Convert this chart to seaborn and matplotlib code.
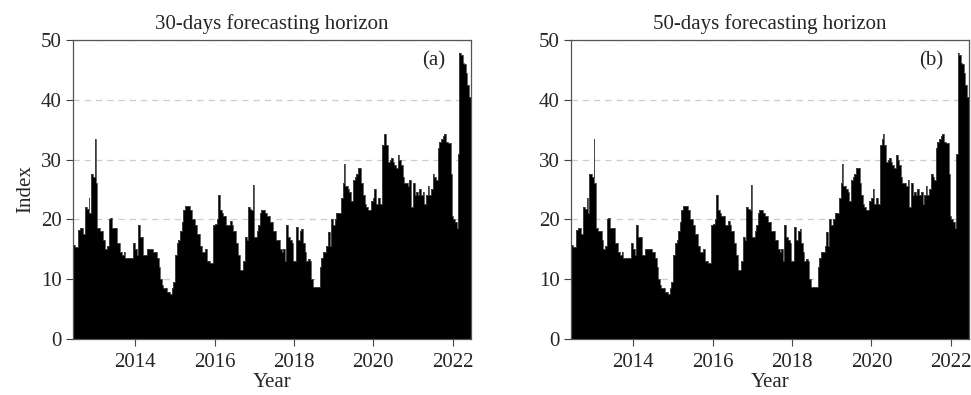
import matplotlib
matplotlib.use("Agg")
import matplotlib.pyplot as plt
import seaborn as sns
import pandas as pd

# values (decimal year, index level)
years = [
    2012.43, 2012.49, 2012.55, 2012.62, 2012.69, 2012.74, 2012.79, 2012.83, 2012.85, 2012.89,
    2012.95, 2013.00, 2013.02, 2013.05, 2013.12, 2013.20, 2013.25, 2013.29, 2013.33, 2013.37,
    2013.41, 2013.50, 2013.54, 2013.62, 2013.66, 2013.71, 2013.75, 2013.83, 2013.92, 2013.94,
    2014.00, 2014.04, 2014.08, 2014.13, 2014.17, 2014.21, 2014.29, 2014.38, 2014.46, 2014.54,
    2014.59, 2014.63, 2014.67, 2014.71, 2014.80, 2014.88, 2014.92, 2014.96, 2015.01, 2015.05,
    2015.09, 2015.13, 2015.17, 2015.21, 2015.26, 2015.34, 2015.38, 2015.42, 2015.51, 2015.55,
    2015.63, 2015.68, 2015.76, 2015.80, 2015.88, 2015.93, 2015.97, 2016.01, 2016.05, 2016.09,
    2016.14, 2016.18, 2016.22, 2016.30, 2016.39, 2016.43, 2016.47, 2016.55, 2016.60, 2016.64,
    2016.68, 2016.72, 2016.76, 2016.81, 2016.85, 2016.89, 2016.93, 2016.96, 2016.99, 2017.06,
    2017.10, 2017.14, 2017.18, 2017.27, 2017.31, 2017.39, 2017.48, 2017.56, 2017.64, 2017.69,
    2017.73, 2017.77, 2017.81, 2017.85, 2017.89, 2017.94, 2017.98, 2018.02, 2018.06, 2018.10,
    2018.15, 2018.19, 2018.23, 2018.27, 2018.31, 2018.36, 2018.40, 2018.44, 2018.48, 2018.56,
    2018.61, 2018.65, 2018.69, 2018.73, 2018.82, 2018.86, 2018.90, 2018.94, 2018.98, 2019.03,
    2019.07, 2019.15, 2019.19, 2019.23, 2019.26, 2019.28, 2019.36, 2019.40, 2019.44, 2019.49,
    2019.53, 2019.57, 2019.61, 2019.65, 2019.70, 2019.74, 2019.78, 2019.82, 2019.86, 2019.90,
    2019.95, 2019.99, 2020.03, 2020.07, 2020.11, 2020.16, 2020.20, 2020.22, 2020.26, 2020.28,
    2020.32, 2020.36, 2020.41, 2020.45, 2020.49, 2020.53, 2020.57, 2020.62, 2020.66, 2020.70,
    2020.74, 2020.78, 2020.83, 2020.87, 2020.91, 2020.95, 2020.99, 2021.04, 2021.08, 2021.12,
    2021.16, 2021.20, 2021.24, 2021.29, 2021.33, 2021.37, 2021.41, 2021.45, 2021.50, 2021.54,
    2021.58, 2021.62, 2021.66, 2021.70, 2021.75, 2021.79, 2021.83, 2021.87, 2021.91, 2021.96,
    2021.98, 2022.01, 2022.06, 2022.10, 2022.13, 2022.17, 2022.21, 2022.25, 2022.29, 2022.33,
    2022.37, 2022.41, 2022.46,
]
index_30 = [
    15.7, 15.4, 18.2, 18.5, 17.5, 22.0, 21.8, 23.5, 21.0, 27.5,
    27.0, 33.5, 26.0, 18.5, 18.0, 16.5, 15.0, 15.5, 20.0, 20.2,
    18.5, 18.5, 16.0, 14.5, 14.0, 14.5, 13.5, 13.5, 13.5, 16.0,
    15.0, 14.0, 19.0, 17.0, 17.0, 14.0, 15.0, 15.0, 14.5, 13.5,
    12.0, 10.0, 9.0, 8.5, 7.8, 7.5, 8.5, 9.5, 14.0, 16.0,
    16.5, 18.0, 19.5, 21.5, 22.3, 22.3, 21.5, 20.0, 19.0, 17.5,
    15.5, 14.5, 15.0, 13.0, 12.7, 12.7, 19.0, 19.2, 20.0, 24.0,
    21.5, 21.0, 20.5, 19.0, 19.8, 19.0, 18.0, 16.0, 14.0, 11.5,
    11.5, 13.0, 17.0, 16.5, 22.0, 21.8, 21.5, 25.7, 17.0, 18.0,
    19.0, 21.0, 21.5, 21.0, 20.5, 19.5, 18.0, 16.5, 15.0, 14.5,
    15.0, 13.0, 19.0, 17.0, 16.5, 16.0, 13.0, 13.0, 18.7, 16.5,
    18.0, 18.3, 16.0, 14.5, 13.0, 13.3, 13.0, 10.0, 8.7, 8.7,
    8.7, 12.0, 13.5, 14.5, 15.5, 17.8, 15.5, 20.0, 19.0, 20.0,
    21.0, 21.0, 23.5, 26.0, 29.3, 25.5, 25.0, 24.5, 23.0, 26.5,
    27.0, 27.5, 28.5, 28.5, 26.0, 24.0, 22.5, 22.0, 21.5, 21.5,
    23.0, 23.5, 25.0, 22.5, 23.5, 22.5, 22.5, 32.5, 33.5, 34.3,
    32.5, 29.5, 30.0, 30.3, 29.5, 29.0, 28.5, 30.8, 30.0, 29.0,
    27.0, 26.0, 26.0, 25.5, 26.5, 22.0, 26.0, 24.0, 24.5, 24.0,
    25.0, 24.0, 24.5, 22.5, 24.0, 25.5, 24.0, 25.0, 27.5, 27.0,
    26.5, 32.0, 33.0, 33.5, 34.0, 34.3, 33.0, 32.8, 32.8, 27.5,
    20.5, 20.0, 19.5, 18.5, 31.0, 47.8, 47.5, 46.2, 46.0, 44.5,
    42.5, 40.5, 40.0,
]
# the 50-day panel is visually the same series
index_50 = list(index_30)

panels = [
    ("30-days forecasting horizon", "(a)", index_30),
    ("50-days forecasting horizon", "(b)", index_50),
]
year_ticks = [2014, 2016, 2018, 2020, 2022]
index_ticks = [0, 10, 20, 30, 40, 50]

sns.set_style("ticks")
plt.rcParams["font.family"] = ["Liberation Serif", "DejaVu Serif"]
plt.rcParams["font.size"] = 15

fig = plt.figure(figsize=(9.71, 3.95), dpi=100)
ax_a = fig.add_axes([0.075, 0.142, 0.410, 0.757])
ax_b = fig.add_axes([0.588, 0.142, 0.410, 0.757])

for ax, (title, tag, vals) in zip([ax_a, ax_b], panels):
    df = pd.DataFrame({"Year": years, "Index": vals})
    ax.fill_between(df["Year"], df["Index"], step="post", color="black", lw=0, zorder=2)
    sns.lineplot(data=df, x="Year", y="Index", ax=ax, drawstyle="steps-post",
                 color="#4a4a4a", lw=0.6, zorder=3)
    ax.set_xlim(2012.43, 2022.46)
    ax.set_ylim(0, 50)
    ax.set_xticks(year_ticks)
    ax.set_yticks(index_ticks)
    ax.yaxis.grid(True, ls=(0, (5, 4)), color="#cccccc", lw=0.9, zorder=0)
    ax.set_axisbelow(True)
    ax.set_title(title, fontsize=15, pad=8)
    ax.set_xlabel("Year", fontsize=15, labelpad=1)
    ax.set_ylabel("Index" if ax is ax_a else "", fontsize=15, labelpad=4)
    ax.text(0.935, 0.93, tag, transform=ax.transAxes, ha="right", va="center", fontsize=15)
    ax.tick_params(direction="out", length=5, width=0.8, color="#444444", labelsize=15)
    ax.tick_params(axis="x", pad=5)
    ax.tick_params(axis="y", pad=3)
    for s in ax.spines.values():
        s.set_color("#555555")
        s.set_linewidth(0.9)

fig.savefig("out.png", dpi=100)
